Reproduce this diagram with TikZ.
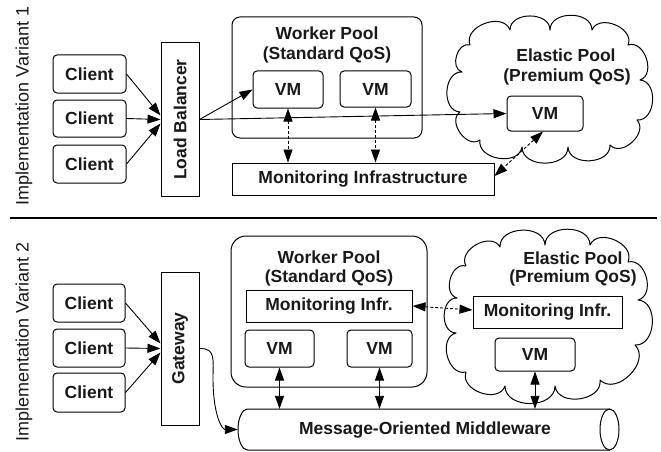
\documentclass[tikz,border=0pt]{standalone}
\usepackage{fontspec}
\setmainfont{Liberation Sans}
\usetikzlibrary{arrows.meta}
\begin{document}
\begin{tikzpicture}[x=1pt,y=-1pt,
  lbl/.style={font=\fontsize{17.5}{20}\selectfont\bfseries, text=black!90},
  bx/.style={draw, line width=1pt, inner sep=0pt, lbl},
  rbx/.style={bx, rounded corners=4pt},
  tip/.tip={Triangle[length=13pt,width=9pt]},
  arr/.style={-tip, line width=0.9pt},
  darr/.style={tip-tip, line width=0.9pt},
  ddarr/.style={darr, dash pattern=on 3pt off 2pt},
  side/.style={rotate=90, font=\fontsize{18}{20}\selectfont, text=black!90},
  puff/.style={bend left=90, looseness=1.2},
  cloudline/.style={line width=1pt, line join=round}
]
\useasboundingbox (0,0) rectangle (661,452);

% ---------- Variant 1 ----------
\node[side] (v1) at (24,106) {Implementation Variant 1};
\coordinate (sepl) at (10,218);
\coordinate (sepr) at (657,218);
\draw[line width=1.4pt] (sepl) -- (sepr);

\node[rbx, minimum width=73, minimum height=38] (a1) at (89.5,74) {Client};
\node[rbx, minimum width=73, minimum height=37] (a2) at (89.5,118.5) {Client};
\node[rbx, minimum width=73, minimum height=38] (a3) at (89.5,164) {Client};
\node[bx, minimum width=38, minimum height=153] (lb) at (180,119.5) {};
\node[lbl, rotate=90] (lbt) at (lb.center) {Load Balancer};

\node[draw, line width=1pt, rounded corners=8pt, minimum width=190, minimum height=121, inner sep=0] (wp1) at (327,77.5) {};
\node[lbl] (wp1a) at (327,33) {Worker Pool};
\node[lbl] (wp1b) at (327,55) {(Standard QoS)};
\node[rbx, minimum width=70, minimum height=37] (vm1) at (288,89.5) {VM};
\node[rbx, minimum width=71, minimum height=36] (vm2) at (375.5,89) {VM};
\node[bx, minimum width=262, minimum height=32] (mon) at (363,179) {Monitoring Infrastructure};

% elastic pool cloud 1
\draw[cloudline] (470,45) to[puff] (510,30) to[puff] (550,30) to[puff] (592,30)
  to[puff] (628,45) to[puff] (640,80) to[puff] (637,120) to[puff] (610,145)
  to[puff] (568,147) to[puff] (522,147) to[puff] (480,140) to[puff] (460,112)
  to[puff] (462,72) to[puff] (470,45);
\node[lbl] (cl1a) at (566,55) {Elastic Pool};
\node[lbl] (cl1b) at (567,77) {(Premium QoS)};
\node[rbx, minimum width=76, minimum height=35] (evm1) at (545,113.5) {VM};

\draw[arr] (a1.east) -- ([yshift=4pt]lb.west);
\draw[arr] (a2.east) -- (lb.west);
\draw[arr] (a3.east) -- ([yshift=-4pt]lb.west);
\draw[arr] (lb.east) -- (vm1.west);
\draw[arr] (lb.east) -- (evm1.west);
\draw[ddarr] (vm1.south) -- (vm1.south |- mon.north);
\draw[ddarr] (vm2.south) -- (vm2.south |- mon.north);
\draw[ddarr] ([xshift=-2pt]evm1.south) -- ([yshift=3pt]mon.east);

% ---------- Variant 2 ----------
\node[side] (v2) at (24,342) {Implementation Variant 2};

\node[rbx, minimum width=72, minimum height=38] (b1) at (89,303) {Client};
\node[rbx, minimum width=72, minimum height=38] (b2) at (89,348) {Client};
\node[rbx, minimum width=72, minimum height=39] (b3) at (89,392.5) {Client};
\node[bx, minimum width=38, minimum height=153] (gw) at (180,348.5) {};
\node[lbl, rotate=90] (gwt) at (gw.center) {Gateway};

\node[draw, line width=1pt, rounded corners=15pt, minimum width=196, minimum height=151, inner sep=0] (wp2) at (329,311.5) {};
\node[lbl] (wp2a) at (329,257) {Worker Pool};
\node[lbl] (wp2b) at (329,278) {(Standard QoS)};
\node[bx, minimum width=166, minimum height=32] (monw) at (329,306) {Monitoring Infr.};
\node[rbx, minimum width=69, minimum height=37] (vma) at (279.5,348.5) {VM};
\node[rbx, minimum width=65, minimum height=37] (vmb) at (379.5,348.5) {VM};

% elastic pool cloud 2
\draw[cloudline] (466,266) to[puff] (500,247) to[puff] (545,245) to[puff] (590,245)
  to[puff] (628,262) to[puff] (638,300) to[puff] (635,345) to[puff] (600,380)
  to[puff] (555,386) to[puff] (505,386) to[puff] (466,372) to[puff] (456,333)
  to[puff] (457,298) to[puff] (466,266);
\node[lbl] (cl2a) at (573,258) {Elastic Pool};
\node[lbl] (cl2b) at (573,278) {(Premium QoS)};
\node[bx, minimum width=149, minimum height=32] (monc) at (547.5,312) {Monitoring Infr.};
\node[rbx, minimum width=80, minimum height=33] (vmc) at (535,354.5) {VM};

% message-oriented middleware (cylinder)
\node[inner sep=0, minimum width=381, minimum height=41] (mom) at (428.5,429.5) {};
\node[lbl] (momt) at (425,430) {Message-Oriented Middleware};
\draw[line width=1pt] (609.5,409) -- (247.5,409) arc[start angle=90, end angle=270, x radius=9.5pt, y radius=20.5pt] -- (609.5,450);
\draw[line width=1pt] (609.5,429.5) ellipse [x radius=9.5pt, y radius=20.5pt];

\draw[arr] (b1.east) -- ([yshift=5pt]gw.west);
\draw[arr] (b2.east) -- (gw.west);
\draw[arr] (b3.east) -- ([yshift=-4pt]gw.west);
\draw[arr] (gw.east) .. controls (216,348) and (213,360) .. (213,378) .. controls (213,415) and (222,429.5) .. (mom.west);
\draw[ddarr] (monw.east) -- ([yshift=2pt]monc.west);
\draw[darr] (vma.south) -- (vma.south |- mom.north);
\draw[darr] (vmb.south) -- (vmb.south |- mom.north);
\draw[darr] (vmc.south) -- (vmc.south |- mom.north);
\end{tikzpicture}
\end{document}
